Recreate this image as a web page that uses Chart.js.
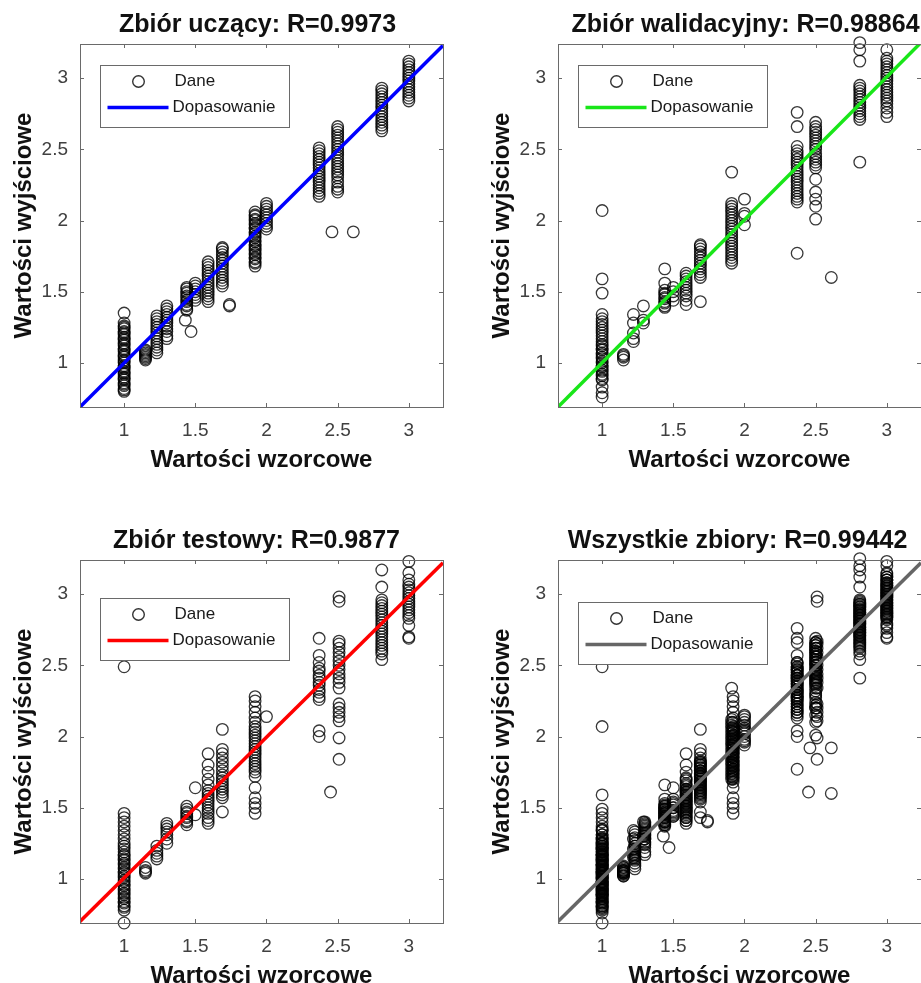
<!DOCTYPE html>
<html>
<head>
<meta charset="utf-8">
<script src="https://cdn.jsdelivr.net/npm/chart.js@4.4.0/dist/chart.umd.min.js"></script>
<style>
  html, body { margin: 0; padding: 0; background: #fff; overflow: hidden; width: 921px; height: 983px; }
  .panel { position: absolute; width: 460px; height: 490px; }
</style>
</head>
<body>
<div class="panel" style="left:0;top:0"><canvas id="train" width="460" height="490"></canvas></div>
<div class="panel" style="left:478px;top:0"><canvas id="valid" width="460" height="490"></canvas></div>
<div class="panel" style="left:0;top:516px"><canvas id="test" width="460" height="490"></canvas></div>
<div class="panel" style="left:478px;top:516px"><canvas id="all" width="460" height="490"></canvas></div>
<script>
// axis and labels
const tickValues = [1, 1.5, 2, 2.5, 3];
const axisMin = 0.69;
const axisMax = 3.24;
const axisTitles = ["Wartości wzorcowe", "Wartości wyjściowe"];
const legendLabels = ["Dane", "Dopasowanie"];
const titles = [
  "Zbiór uczący: R=0.9973",
  "Zbiór walidacyjny: R=0.98864",
  "Zbiór testowy: R=0.9877",
  "Wszystkie zbiory: R=0.99442"
];

// training set: target value per column, outputs in that column
const trainTargets = [1, 1.15, 1.23, 1.30, 1.44, 1.43, 1.47, 1.50, 1.59, 1.69, 1.74, 1.92, 2.0, 2.37, 2.50, 2.46, 2.61, 2.81, 3.0];
const trainOutputs = [
  [0.80, 0.81, 0.82, 0.84, 0.85, 0.86, 0.88, 0.89, 0.90, 0.92, 0.93, 0.94, 0.96, 0.97, 0.98, 1.00, 1.01, 1.02, 1.04, 1.05, 1.06, 1.08, 1.09, 1.10, 1.12, 1.13, 1.14, 1.16, 1.17, 1.18, 1.20, 1.21, 1.22, 1.24, 1.25, 1.26, 1.28, 1.35],
  [1.02, 1.03, 1.04, 1.05, 1.06, 1.07, 1.08, 1.09],
  [1.07, 1.09, 1.11, 1.13, 1.15, 1.17, 1.19, 1.21, 1.23, 1.25, 1.27, 1.29, 1.31, 1.33],
  [1.17, 1.19, 1.22, 1.24, 1.26, 1.28, 1.30, 1.32, 1.34, 1.36, 1.38, 1.40],
  [1.37, 1.38, 1.40, 1.41, 1.43, 1.44, 1.46, 1.47, 1.49, 1.50, 1.52, 1.53],
  [1.30],
  [1.22],
  [1.44, 1.46, 1.48, 1.50, 1.52, 1.54, 1.56],
  [1.43, 1.45, 1.47, 1.49, 1.51, 1.53, 1.55, 1.57, 1.59, 1.61, 1.63, 1.65, 1.67, 1.69, 1.71],
  [1.54, 1.56, 1.58, 1.60, 1.62, 1.64, 1.66, 1.68, 1.70, 1.72, 1.74, 1.76, 1.78, 1.80, 1.81],
  [1.40, 1.41],
  [1.68, 1.70, 1.71, 1.73, 1.74, 1.76, 1.77, 1.79, 1.80, 1.82, 1.83, 1.85, 1.86, 1.88, 1.89, 1.91, 1.92, 1.94, 1.95, 1.97, 1.98, 2.00, 2.01, 2.03, 2.04, 2.06],
  [1.94, 1.96, 1.98, 2.00, 2.02, 2.04, 2.06, 2.08, 2.10, 2.12],
  [2.17, 2.19, 2.21, 2.23, 2.25, 2.27, 2.29, 2.31, 2.33, 2.35, 2.37, 2.39, 2.41, 2.43, 2.45, 2.47, 2.49, 2.51],
  [2.20, 2.22, 2.24, 2.27, 2.30, 2.32, 2.34, 2.36, 2.38, 2.40, 2.42, 2.44, 2.46, 2.48, 2.50, 2.52, 2.54, 2.56, 2.58, 2.60, 2.62, 2.64, 2.66],
  [1.92],
  [1.92],
  [2.63, 2.65, 2.67, 2.69, 2.71, 2.73, 2.75, 2.77, 2.79, 2.81, 2.83, 2.85, 2.87, 2.89, 2.91, 2.93],
  [2.84, 2.86, 2.88, 2.90, 2.92, 2.94, 2.96, 2.98, 3.00, 3.02, 3.04, 3.06, 3.08, 3.10, 3.12]
];

// validation set
const validTargets = [1, 1.15, 1.22, 1.29, 1.44, 1.50, 1.59, 1.69, 1.91, 2.0, 2.37, 2.50, 2.61, 2.81, 3.0];
const validOutputs = [
  [0.76, 0.79, 0.83, 0.88, 0.89, 0.91, 0.92, 0.94, 0.95, 0.97, 0.98, 1.00, 1.01, 1.03, 1.04, 1.06, 1.07, 1.09, 1.10, 1.12, 1.13, 1.15, 1.17, 1.19, 1.21, 1.23, 1.25, 1.27, 1.29, 1.31, 1.34, 1.49, 1.59, 2.07],
  [1.02, 1.04, 1.05, 1.06],
  [1.15, 1.17, 1.21, 1.28, 1.34],
  [1.28, 1.30, 1.40],
  [1.39, 1.40, 1.42, 1.43, 1.45, 1.46, 1.48, 1.49, 1.51, 1.56, 1.66],
  [1.44, 1.47, 1.50, 1.53],
  [1.41, 1.44, 1.47, 1.49, 1.51, 1.53, 1.55, 1.57, 1.59, 1.61, 1.63],
  [1.43, 1.60, 1.62, 1.64, 1.66, 1.68, 1.70, 1.72, 1.74, 1.76, 1.78, 1.80, 1.82, 1.83],
  [1.70, 1.72, 1.74, 1.76, 1.78, 1.80, 1.82, 1.84, 1.86, 1.88, 1.90, 1.92, 1.94, 1.96, 1.98, 2.00, 2.02, 2.04, 2.06, 2.08, 2.10, 2.12, 2.34],
  [1.97, 2.03, 2.05, 2.15],
  [1.77, 2.13, 2.15, 2.17, 2.19, 2.21, 2.23, 2.25, 2.27, 2.29, 2.31, 2.33, 2.35, 2.37, 2.39, 2.41, 2.43, 2.45, 2.47, 2.49, 2.52, 2.66, 2.76],
  [2.01, 2.10, 2.15, 2.20, 2.29, 2.37, 2.39, 2.41, 2.43, 2.45, 2.47, 2.50, 2.52, 2.54, 2.56, 2.58, 2.60, 2.62, 2.64, 2.66, 2.69],
  [1.60],
  [2.41, 2.71, 2.73, 2.75, 2.77, 2.79, 2.81, 2.83, 2.85, 2.87, 2.89, 2.91, 2.93, 2.95, 3.12, 3.20, 3.25],
  [2.73, 2.76, 2.79, 2.82, 2.84, 2.86, 2.88, 2.90, 2.92, 2.94, 2.96, 2.98, 3.00, 3.02, 3.04, 3.06, 3.08, 3.10, 3.12, 3.14, 3.20]
];

// test set
const testTargets = [1, 1.15, 1.23, 1.30, 1.44, 1.50, 1.59, 1.69, 1.92, 2.0, 2.37, 2.45, 2.51, 2.81, 3.0];
const testOutputs = [
  [0.69, 0.78, 0.80, 0.81, 0.83, 0.84, 0.86, 0.87, 0.89, 0.90, 0.92, 0.93, 0.95, 0.96, 0.98, 0.99, 1.01, 1.02, 1.04, 1.05, 1.07, 1.08, 1.10, 1.11, 1.13, 1.14, 1.16, 1.17, 1.19, 1.21, 1.23, 1.25, 1.28, 1.31, 1.34, 1.37, 1.40, 1.43, 1.46, 2.49],
  [1.04, 1.05, 1.06, 1.08],
  [1.14, 1.16, 1.18, 1.20, 1.23],
  [1.25, 1.28, 1.31, 1.33, 1.35, 1.37, 1.39],
  [1.38, 1.40, 1.41, 1.43, 1.44, 1.46, 1.47, 1.49, 1.51],
  [1.45, 1.64],
  [1.39, 1.41, 1.43, 1.46, 1.48, 1.50, 1.52, 1.54, 1.56, 1.58, 1.60, 1.62, 1.66, 1.70, 1.75, 1.80, 1.88],
  [1.47, 1.57, 1.59, 1.61, 1.63, 1.65, 1.67, 1.69, 1.71, 1.73, 1.76, 1.79, 1.82, 1.85, 1.88, 1.91, 2.05],
  [1.46, 1.50, 1.53, 1.57, 1.64, 1.72, 1.75, 1.77, 1.79, 1.81, 1.83, 1.85, 1.87, 1.89, 1.91, 1.93, 1.95, 1.97, 1.99, 2.01, 2.03, 2.05, 2.07, 2.10, 2.13, 2.17, 2.21, 2.25, 2.28],
  [2.14],
  [2.00, 2.04, 2.26, 2.28, 2.31, 2.33, 2.36, 2.38, 2.41, 2.43, 2.46, 2.48, 2.52, 2.57, 2.69],
  [1.61],
  [1.84, 1.99, 2.11, 2.14, 2.17, 2.20, 2.23, 2.34, 2.38, 2.41, 2.44, 2.47, 2.50, 2.53, 2.56, 2.59, 2.62, 2.65, 2.67, 2.95, 2.98],
  [2.54, 2.58, 2.60, 2.62, 2.64, 2.66, 2.68, 2.70, 2.72, 2.74, 2.76, 2.78, 2.80, 2.82, 2.84, 2.86, 2.88, 2.90, 2.92, 2.94, 2.96, 3.05, 3.17],
  [2.69, 2.70, 2.78, 2.83, 2.85, 2.87, 2.89, 2.91, 2.93, 2.95, 2.97, 2.99, 3.01, 3.03, 3.05, 3.07, 3.10, 3.15, 3.23]
];

// fitted lines, evaluated at the axis ends
const fitX = [0.69, 3.24];
const trainFit = [0.69, 3.23];
const validFit = [0.69, 3.25];
const testFit = [0.70, 3.22];
const allFit = [0.70, 3.22];

const FONT = '"Liberation Sans", Arial, Helvetica, sans-serif';

function toPoints(targets, outputs) {
  const pts = [];
  targets.forEach((t, i) => outputs[i].forEach(o => pts.push({ x: t, y: o })));
  return pts;
}

const trainPts = toPoints(trainTargets, trainOutputs);
const validPts = toPoints(validTargets, validOutputs);
const testPts = toPoints(testTargets, testOutputs);
const allPts = trainPts.concat(validPts, testPts);

// box, inward ticks, title and legend (MATLAB style)
const frame = {
  id: "frame",
  afterDatasetsDraw(chart, args, opts) {
    const { ctx, chartArea: a, scales: { x, y } } = chart;
    ctx.save();
    ctx.strokeStyle = "#6a6a6a";
    ctx.lineWidth = 1;
    ctx.beginPath();
    tickValues.forEach(v => {
      const px = Math.round(x.getPixelForValue(v)) + 0.5;
      ctx.moveTo(px, a.bottom); ctx.lineTo(px, a.bottom - 4);
      ctx.moveTo(px, a.top); ctx.lineTo(px, a.top + 4);
      const py = Math.round(y.getPixelForValue(v)) + 0.5;
      ctx.moveTo(a.left, py); ctx.lineTo(a.left + 4, py);
      ctx.moveTo(a.right, py); ctx.lineTo(a.right - 4, py);
    });
    ctx.stroke();
    ctx.strokeRect(Math.round(a.left) + 0.5, Math.round(a.top) + 0.5, Math.round(a.width), Math.round(a.height));

    // title
    ctx.fillStyle = "#111";
    ctx.font = "bold 25px " + FONT;
    ctx.textAlign = "center";
    ctx.textBaseline = "middle";
    ctx.fillText(opts.text, (a.left + a.right) / 2 + opts.dx, a.top - 19);

    // legend
    const [dots, fit] = chart.data.datasets;
    const bx = Math.round(a.left + 20) + 0.5;
    const by = Math.round(a.top + opts.legendTop) + 0.5;
    ctx.fillStyle = "#fff";
    ctx.fillRect(bx, by, 189, 62);
    ctx.strokeStyle = "#6a6a6a";
    ctx.lineWidth = 1;
    ctx.strokeRect(bx, by, 189, 62);
    ctx.beginPath();
    ctx.arc(bx + 38, by + 16, 5.8, 0, Math.PI * 2);
    ctx.strokeStyle = "#333";
    ctx.lineWidth = 1.4;
    ctx.stroke();
    ctx.beginPath();
    ctx.moveTo(bx + 7, by + 42);
    ctx.lineTo(bx + 68, by + 42);
    ctx.strokeStyle = fit.borderColor;
    ctx.lineWidth = 3.5;
    ctx.stroke();
    ctx.fillStyle = "#1a1a1a";
    ctx.font = "17px " + FONT;
    ctx.textAlign = "left";
    ctx.fillText(dots.label, bx + 74, by + 16);
    ctx.fillText(fit.label, bx + 72, by + 42);
    ctx.restore();
  }
};

function axis(titleText, isX) {
  return {
    type: "linear",
    min: axisMin,
    max: axisMax,
    afterBuildTicks: s => { s.ticks = tickValues.map(v => ({ value: v })); },
    afterFit: s => { if (isX) s.height = 83; else s.width = 80; },
    grid: { display: false, drawTicks: false },
    border: { display: false },
    ticks: {
      padding: 12,
      color: "#404040",
      font: { family: FONT, size: 19 },
      autoSkip: false,
      maxRotation: 0,
      callback: v => String(v)
    },
    title: {
      display: true,
      text: titleText,
      color: "#111",
      font: { family: FONT, size: 24, weight: "bold", lineHeight: 1 },
      padding: isX ? { top: 0, bottom: 18 } : { top: 12, bottom: 0 }
    }
  };
}

function makeChart(id, points, fitY, color, title, dx, legendTop) {
  return new Chart(document.getElementById(id), {
    type: "scatter",
    data: {
      datasets: [
        {
          label: legendLabels[0],
          data: points,
          pointStyle: "circle",
          pointRadius: 5.8,
          borderWidth: 1.3,
          borderColor: "rgba(0,0,0,0.78)",
          backgroundColor: "rgba(0,0,0,0)",
          clip: false,
          order: 2
        },
        {
          type: "line",
          label: legendLabels[1],
          data: fitX.map((v, i) => ({ x: v, y: fitY[i] })),
          borderColor: color,
          borderWidth: 3.5,
          pointRadius: 0,
          clip: 0,
          order: 1
        }
      ]
    },
    options: {
      responsive: false,
      animation: false,
      events: [],
      layout: { padding: { top: 44, right: 17, left: 0, bottom: 0 } },
      scales: { x: axis(axisTitles[0], true), y: axis(axisTitles[1], false) },
      plugins: {
        legend: { display: false },
        tooltip: { enabled: false },
        frame: { text: title, dx: dx, legendTop: legendTop }
      }
    },
    plugins: [frame]
  });
}

makeChart("train", trainPts, trainFit, "#0000ff", titles[0], -4, 21);
makeChart("valid", validPts, validFit, "#19e619", titles[1], 6, 21);
makeChart("test", testPts, testFit, "#ff0000", titles[2], -5, 38);
makeChart("all", allPts, allFit, "#666666", titles[3], -2, 42);
</script>
</body>
</html>
